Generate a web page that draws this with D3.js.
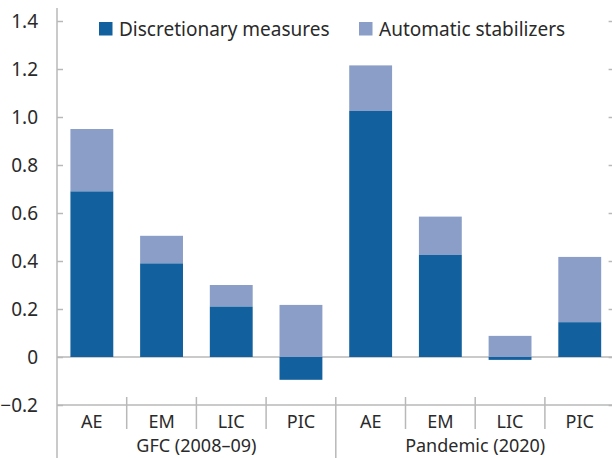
<!DOCTYPE html>
<html>
<head>
<meta charset="utf-8">
<script src="https://cdn.jsdelivr.net/npm/d3@7.9.0/dist/d3.min.js"></script>
<style>
  body { margin: 0; background: #fff; }
  text { font-family: "Noto Sans", sans-serif; fill: #2a2a2a; }
</style>
</head>
<body>
<svg id="chart" width="612" height="458"></svg>
<script>
// Data
const groups = ["GFC (2008–09)", "Pandemic (2020)"];
const categories = ["AE", "EM", "LIC", "PIC"];
const discretionary = [0.69, 0.39, 0.21, -0.095, 1.025, 0.425, -0.012, 0.145];
const automatic = [0.26, 0.115, 0.09, 0.217, 0.19, 0.16, 0.088, 0.272];
const yTicks = [-0.2, 0, 0.2, 0.4, 0.6, 0.8, 1.0, 1.2, 1.4];
const seriesNames = ["Discretionary measures", "Automatic stabilizers"];
const colors = ["#13609f", "#8a9ec8"];
const gridColor = "#b8b8b8";
const fontSize = "19px";
const axisFontSize = "18px";

const svg = d3.select("#chart");
const plotLeft = 57, plotRight = 614.6, plotTop = 9, plotBottom = 405;

// one slot per bar: group index + category
const slots = [];
groups.forEach((g, gi) => categories.forEach(c => slots.push(gi + "|" + c)));

const x = d3.scaleBand().domain(slots).range([plotLeft, plotRight]).padding(0);
const y = d3.scaleLinear().domain([-0.2, 1.45]).range([plotBottom, plotTop]);
const barW = x.bandwidth() * 0.615;

// stacked data: discretionary from 0, automatic on top of max(0, disc)
const bars = slots.map((s, i) => {
    const d = discretionary[i], a = automatic[i];
    const base = Math.max(0, d);
    return { slot: s, disc: [Math.min(0, d), Math.max(0, d)], auto: [base, base + a] };
});

// Zero line
svg.append("line")
    .attr("x1", plotLeft).attr("x2", plotRight)
    .attr("y1", y(0)).attr("y2", y(0))
    .attr("stroke", gridColor).attr("stroke-width", 1.5);

// Bars
const barG = svg.append("g");
barG.selectAll("rect.auto")
    .data(bars)
    .enter()
    .append("rect")
    .attr("class", "auto")
    .attr("x", d => x(d.slot) + (x.bandwidth() - barW) / 2)
    .attr("y", d => y(d.auto[1]))
    .attr("width", barW)
    .attr("height", d => y(d.auto[0]) - y(d.auto[1]))
    .attr("fill", colors[1]);

barG.selectAll("rect.disc")
    .data(bars)
    .enter()
    .append("rect")
    .attr("class", "disc")
    .attr("x", d => x(d.slot) + (x.bandwidth() - barW) / 2)
    .attr("y", d => y(d.disc[1]))
    .attr("width", barW)
    .attr("height", d => y(d.disc[0]) - y(d.disc[1]))
    .attr("fill", colors[0]);

// Left axis
const yAxis = svg.append("g")
    .attr("transform", `translate(${plotLeft},0)`)
    .call(d3.axisRight(y).tickValues(yTicks).tickSize(6).tickFormat(d => d === 0 ? "0" : d3.format(".1f")(d)));
yAxis.select(".domain").remove();
yAxis.selectAll(".tick line").attr("stroke", gridColor).attr("stroke-width", 1.5);
yAxis.selectAll(".tick text")
    .attr("x", -19)
    .attr("text-anchor", "end")
    .style("font-size", fontSize)
    .style("font-family", "'Noto Sans', sans-serif")
    .attr("fill", "#2a2a2a");

svg.append("line")
    .attr("x1", plotLeft).attr("x2", plotLeft)
    .attr("y1", plotTop - 1).attr("y2", 458)
    .attr("stroke", gridColor).attr("stroke-width", 1.5);

// Right axis ticks
const yAxisR = svg.append("g")
    .attr("transform", `translate(${plotRight},0)`)
    .call(d3.axisLeft(y).tickValues(yTicks).tickSize(6).tickFormat(""));
yAxisR.select(".domain").remove();
yAxisR.selectAll(".tick line").attr("stroke", gridColor).attr("stroke-width", 1.5);

// Bottom axis line
svg.append("line")
    .attr("x1", plotLeft).attr("x2", plotRight)
    .attr("y1", plotBottom).attr("y2", plotBottom)
    .attr("stroke", gridColor).attr("stroke-width", 1.5);

// Category separators
const seps = slots.slice(1).map((s, i) => ({ x: x(s), major: (i + 1) % categories.length === 0 }));
svg.selectAll("line.sep")
    .data(seps)
    .enter()
    .append("line")
    .attr("class", "sep")
    .attr("x1", d => d.x).attr("x2", d => d.x)
    .attr("y1", plotBottom - 8)
    .attr("y2", d => d.major ? 458 : 429)
    .attr("stroke", gridColor).attr("stroke-width", 1.5);

// Category labels
svg.selectAll("text.cat")
    .data(slots)
    .enter()
    .append("text")
    .attr("class", "cat")
    .attr("x", d => x(d) + x.bandwidth() / 2)
    .attr("y", 427.5)
    .attr("text-anchor", "middle")
    .style("font-size", axisFontSize)
    .text(d => d.split("|")[1]);

// Group labels
svg.selectAll("text.grp")
    .data(groups)
    .enter()
    .append("text")
    .attr("class", "grp")
    .attr("x", (d, i) => {
        const first = x(i + "|" + categories[0]);
        const last = x(i + "|" + categories[categories.length - 1]) + x.bandwidth();
        return (first + last) / 2;
    })
    .attr("y", 452)
    .attr("text-anchor", "middle")
    .style("font-size", axisFontSize)
    .text(d => d);

// Legend
const legendX = [99, 359];
const legend = svg.append("g");
legend.selectAll("rect")
    .data(seriesNames)
    .enter()
    .append("rect")
    .attr("x", (d, i) => legendX[i])
    .attr("y", 22)
    .attr("width", 13.5)
    .attr("height", 13.5)
    .attr("fill", (d, i) => colors[i]);

legend.selectAll("text")
    .data(seriesNames)
    .enter()
    .append("text")
    .attr("x", (d, i) => legendX[i] + 20)
    .attr("y", 35.5)
    .style("font-size", fontSize)
    .text(d => d);
</script>
</body>
</html>
